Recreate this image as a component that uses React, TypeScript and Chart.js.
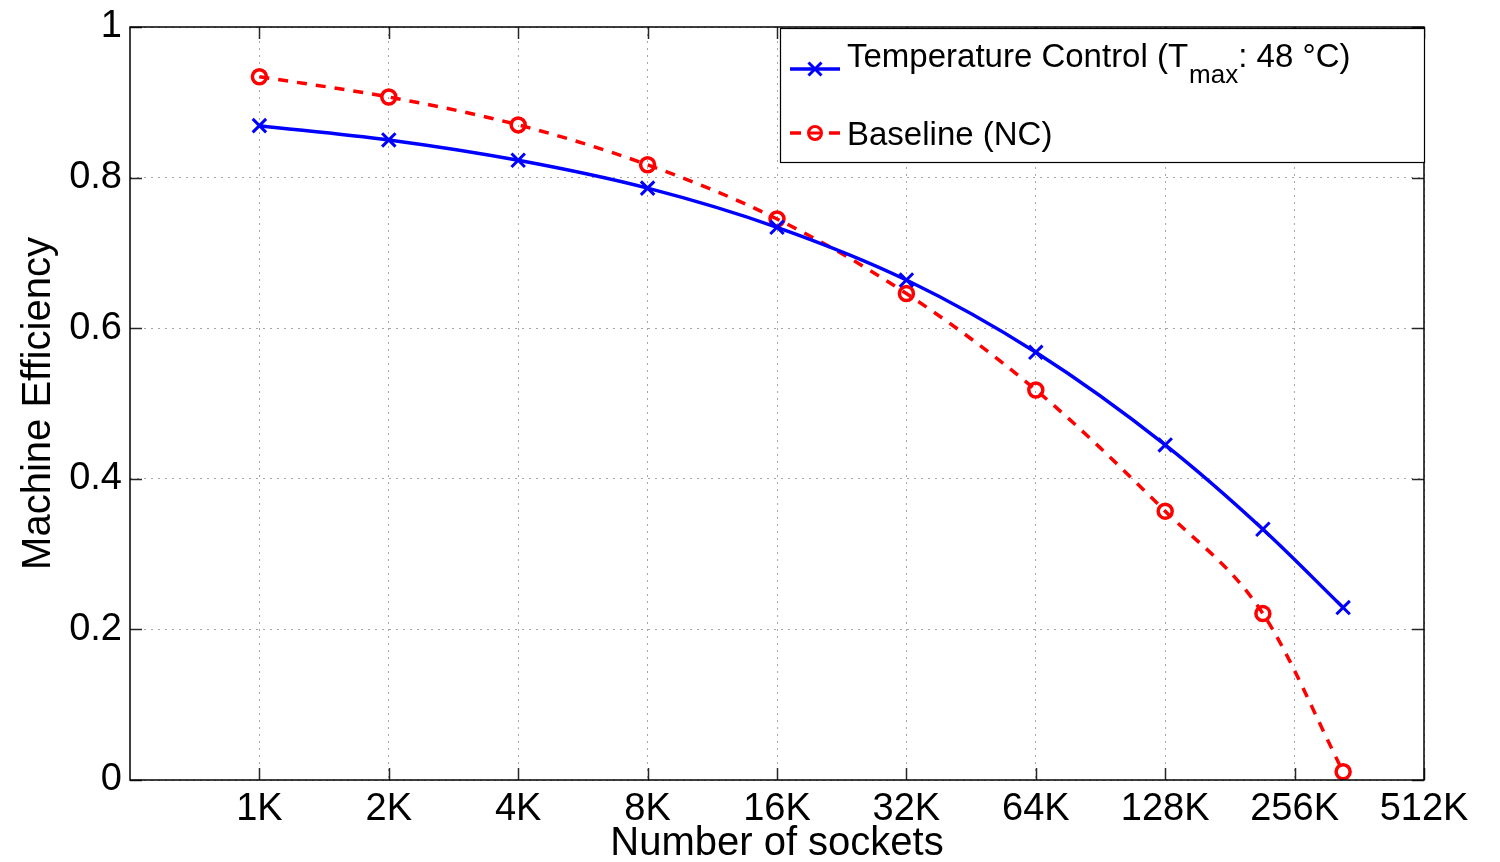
import React, { useEffect, useRef } from 'react';
import { Chart, registerables } from 'chart.js';

Chart.register(...registerables);

// Data (x in thousands of sockets)
const socketsK = [1, 2, 4, 8, 16, 32, 64, 128, 216, 332];
const tempControl = [0.869, 0.85, 0.823, 0.786, 0.734, 0.664, 0.568, 0.445, 0.333, 0.229];
const baselineNC = [0.934, 0.907, 0.87, 0.817, 0.745, 0.646, 0.518, 0.357, 0.221, 0.011];

const xTickValues = [1, 2, 4, 8, 16, 32, 64, 128, 256, 512];
const xTickLabels = ['1K', '2K', '4K', '8K', '16K', '32K', '64K', '128K', '256K', '512K'];
const yTickValues = [0, 0.2, 0.4, 0.6, 0.8, 1];
const yTickLabels = ['0', '0.2', '0.4', '0.6', '0.8', '1'];

const seriesNames = ['Temperature Control', 'Baseline (NC)'];
const legendTempParts = ['Temperature Control (T', 'max', ': 48 \u00B0C)'];
const xTitle = 'Number of sockets';
const yTitle = 'Machine Efficiency';

const FONT = '"Liberation Sans", Arial, Helvetica, sans-serif';
const BLUE = '#0000ff';
const RED = '#ff0000';

const framePlugin = {
  id: 'matlabFrame',
  afterDraw(chart: any) {
    const { ctx, chartArea, scales } = chart;
    const { left, right, top, bottom } = chartArea;
    const x = scales.x;
    const y = scales.y;
    ctx.save();
    ctx.setLineDash([]);
    const seg = (x1: number, y1: number, x2: number, y2: number) => {
      ctx.beginPath();
      ctx.moveTo(x1, y1);
      ctx.lineTo(x2, y2);
      ctx.stroke();
    };
    // inward ticks
    ctx.strokeStyle = '#262626';
    ctx.lineWidth = 1.5;
    const L = 12;
    xTickValues.forEach((v) => {
      const px = Math.round(x.getPixelForValue(v)) + 0.5;
      seg(px, bottom, px, bottom - L);
      seg(px, top, px, top + L);
    });
    yTickValues.forEach((v) => {
      const py = Math.round(y.getPixelForValue(v)) + 0.5;
      seg(left, py, left + L, py);
      seg(right, py, right - L, py);
    });
    // frame
    ctx.strokeStyle = '#000';
    ctx.lineWidth = 1.5;
    ctx.strokeRect(left, top, right - left, bottom - top);

    // legend
    const lx = 780;
    const ly = 28;
    const lw = 1424 - 780;
    const lh = 162 - 28;
    ctx.fillStyle = '#fff';
    ctx.fillRect(lx, ly, lw, lh);
    ctx.strokeStyle = '#000';
    ctx.lineWidth = 1.2;
    ctx.strokeRect(lx + 0.5, ly + 0.5, lw, lh);

    // entry 1: blue solid with x marker
    const y1 = 69;
    ctx.strokeStyle = BLUE;
    ctx.lineWidth = 3.5;
    seg(790, y1, 840, y1);
    const mx = 815;
    const r = 6.5;
    ctx.lineWidth = 3;
    seg(mx - r, y1 - r, mx + r, y1 + r);
    seg(mx - r, y1 + r, mx + r, y1 - r);

    ctx.fillStyle = '#000';
    ctx.textBaseline = 'alphabetic';
    ctx.textAlign = 'left';
    ctx.font = `33px ${FONT}`;
    let tx = 847;
    ctx.fillText(legendTempParts[0], tx, 67);
    tx += ctx.measureText(legendTempParts[0]).width + 1;
    ctx.font = `26px ${FONT}`;
    ctx.fillText(legendTempParts[1], tx, 83);
    tx += ctx.measureText(legendTempParts[1]).width;
    ctx.font = `33px ${FONT}`;
    ctx.fillText(legendTempParts[2], tx, 67);

    // entry 2: red dashed with circle marker
    const y2 = 133;
    ctx.strokeStyle = RED;
    ctx.lineWidth = 3.5;
    seg(790, y2, 801, y2);
    seg(829, y2, 840, y2);
    ctx.lineWidth = 3;
    ctx.beginPath();
    ctx.arc(815, y2, 6.5, 0, Math.PI * 2);
    ctx.stroke();
    seg(809, y2, 821, y2);
    ctx.fillStyle = '#000';
    ctx.font = `33px ${FONT}`;
    ctx.fillText(seriesNames[1], 847, 145);

    ctx.restore();
  },
};

export default function App() {
  const ref = useRef<HTMLCanvasElement | null>(null);

  useEffect(() => {
    if (!ref.current) return;
    const gridCommon = {
      color: '#a6a6a6',
      lineWidth: 1,
      drawTicks: false,
      tickLength: 0,
    };
    const chart = new Chart(ref.current, {
      type: 'line',
      data: {
        datasets: [
          {
            label: seriesNames[0],
            data: socketsK.map((k, i) => ({ x: k, y: tempControl[i] })),
            borderColor: BLUE,
            backgroundColor: 'transparent',
            borderWidth: 3.5,
            pointStyle: 'crossRot',
            pointRadius: 9.5,
            pointBorderWidth: 3,
            pointBorderColor: BLUE,
            cubicInterpolationMode: 'monotone',
            fill: false,
          },
          {
            label: seriesNames[1],
            data: socketsK.map((k, i) => ({ x: k, y: baselineNC[i] })),
            borderColor: RED,
            backgroundColor: 'transparent',
            borderWidth: 3.5,
            borderDash: [10, 9],
            pointStyle: 'circle',
            pointRadius: 7,
            pointBorderWidth: 3.5,
            pointBorderColor: RED,
            pointBackgroundColor: 'rgba(0,0,0,0)',
            cubicInterpolationMode: 'monotone',
            fill: false,
          },
        ],
      },
      options: {
        responsive: false,
        animation: false,
        devicePixelRatio: 1,
        layout: { padding: { top: 27, right: 76, left: 0, bottom: 0 } },
        plugins: {
          legend: { display: false },
          tooltip: { enabled: false },
        },
        scales: {
          x: {
            type: 'logarithmic',
            min: 0.5,
            max: 512,
            afterBuildTicks: (scale: any) => {
              scale.ticks = xTickValues.map((v) => ({ value: v }));
            },
            afterFit: (scale: any) => {
              scale.height = 82;
            },
            ticks: {
              autoSkip: false,
              maxRotation: 0,
              minRotation: 0,
              padding: 7,
              color: '#000',
              font: { family: FONT, size: 38 },
              callback: (_v: any, i: number) => xTickLabels[i],
            },
            grid: gridCommon,
            border: { display: false, dash: [2, 5] },
            title: {
              display: true,
              text: xTitle,
              color: '#000',
              font: { family: FONT, size: 40 },
              padding: { top: 0, bottom: -6 },
            },
          },
          y: {
            type: 'linear',
            min: 0,
            max: 1,
            afterBuildTicks: (scale: any) => {
              scale.ticks = yTickValues.map((v) => ({ value: v }));
            },
            afterFit: (scale: any) => {
              scale.width = 130;
            },
            ticks: {
              padding: 8,
              color: '#000',
              font: { family: FONT, size: 38, lineHeight: 0.9 },
              callback: (_v: any, i: number) => yTickLabels[i],
            },
            grid: gridCommon,
            border: { display: false, dash: [2, 5] },
            title: {
              display: true,
              text: yTitle,
              color: '#000',
              font: { family: FONT, size: 40 },
              padding: { top: 15, bottom: 0 },
            },
          },
        },
      } as any,
      plugins: [framePlugin],
    });
    return () => chart.destroy();
  }, []);

  return (
    <div style={{ position: 'absolute', left: 0, top: 0, width: 1500, height: 862, background: '#fff' }}>
      <canvas ref={ref} width={1500} height={862} style={{ display: 'block', width: 1500, height: 862 }} />
    </div>
  );
}
